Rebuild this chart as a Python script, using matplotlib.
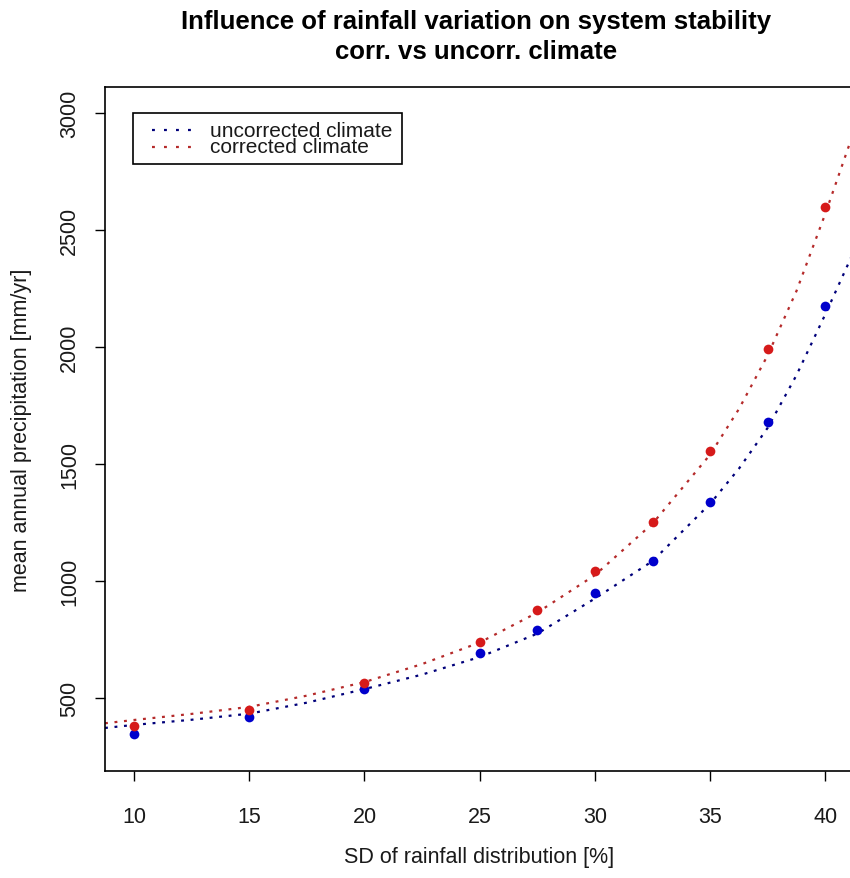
import matplotlib
matplotlib.use("Agg")
import matplotlib.pyplot as plt
from matplotlib.lines import Line2D
from matplotlib.patches import Rectangle

plt.rcParams['font.family'] = ['Liberation Sans', 'DejaVu Sans']

# ---- data ----
sd = [10, 15, 20, 25, 27.5, 30, 32.5, 35, 37.5, 40]
uncorrected = [346, 417, 540, 692, 790, 948, 1085, 1338, 1680, 2175]
corrected = [380, 449, 566, 739, 876, 1042, 1252, 1555, 1990, 2598]

# fitted (dotted) curves
fit_x = [8.74, 10, 12.5, 15, 17.5, 20, 22.5, 25, 27.5, 30, 32.5, 35, 36.25, 37.5, 38.75, 40, 41.13]
fit_uncorrected = [372, 385, 407, 433, 480, 538, 600, 675, 775, 925, 1085, 1330, 1480, 1655, 1880, 2140, 2385]
fit_corrected = [392, 406, 432, 462, 510, 568, 645, 737, 865, 1025, 1245, 1540, 1735, 1965, 2240, 2570, 2890]

xticks = [10, 15, 20, 25, 30, 35, 40]
yticks = [500, 1000, 1500, 2000, 2500, 3000]

title = "Influence of rainfall variation on system stability\ncorr. vs uncorr. climate"
xlabel = "SD of rainfall distribution [%]"
ylabel = "mean annual precipitation [mm/yr]"
labels = ["uncorrected climate", "corrected climate"]

line_blue = "#00007A"
line_red = "#B52A2A"
pt_blue = "#0000CC"
pt_red = "#D61A1A"
txt = "#1a1a1a"

W, H = 850, 879
fig = plt.figure(figsize=(W / 100, H / 100), dpi=100)
ax = fig.add_axes([105 / W, 1 - 772 / H, (853 - 105) / W, (772 - 88) / H])

dash = (0, (1.3, 3.0))
ax.plot(fit_x, fit_uncorrected, color=line_blue, lw=1.6, linestyle=dash, zorder=2)
ax.plot(fit_x, fit_corrected, color=line_red, lw=1.6, linestyle=dash, zorder=2)
ax.plot(sd, uncorrected, 'o', color=pt_blue, ms=7, mec='none', zorder=3)
ax.plot(sd, corrected, 'o', color=pt_red, ms=7, mec='none', zorder=3)

ax.set_xlim(8.74, 41.2)
ax.set_ylim(188, 3111)
ax.set_xticks(xticks)
ax.set_yticks(yticks)
ax.set_xticklabels([str(v) for v in xticks])
ax.set_yticklabels([str(v) for v in yticks], rotation=90, va='center')
ax.tick_params(axis='both', direction='out', length=7, width=1.0, labelsize=15.5,
               colors='black', labelcolor=txt)
ax.tick_params(axis='x', pad=18)
ax.tick_params(axis='y', pad=11)
for s in ax.spines.values():
    s.set_linewidth(1.2)
ax.spines['right'].set_visible(False)

ax_cx = 105 / W + (853 - 105) / W / 2
fig.text(ax_cx, 1 - 858 / H, xlabel, ha='center', va='center', fontsize=15.5, color=txt)
fig.text(22 / W, 1 - 430 / H, ylabel, ha='center', va='center', rotation=90,
         fontsize=15.5, color=txt)

fig.text(476.5 / W, 1 - 37 / H, title, ha='center', va='center', fontsize=18.5,
         fontweight='bold', linespacing=1.33)

# legend (drawn in figure pixels)
def fx(px):
    return px / W

def fy(py):
    return 1 - py / H

fig.patches.append(Rectangle((fx(133), fy(165)), fx(402) - fx(133), fy(114) - fy(165),
                             transform=fig.transFigure, fill=True, facecolor='white',
                             edgecolor='black', lw=1.2, zorder=5))
leg_dash = (0, (1.3, 4.1))
for i, col in enumerate([line_blue, line_red]):
    yy = 131 + 17 * i
    fig.lines.append(Line2D([fx(152), fx(192)], [fy(yy), fy(yy)], transform=fig.transFigure,
                            color=col, lw=1.6, linestyle=leg_dash, zorder=6))
fig.text(fx(210), fy(139.5), "\n".join(labels), ha='left', va='center', fontsize=15,
         color=txt, linespacing=0.82, zorder=6)

fig.savefig("out.png", dpi=100)
